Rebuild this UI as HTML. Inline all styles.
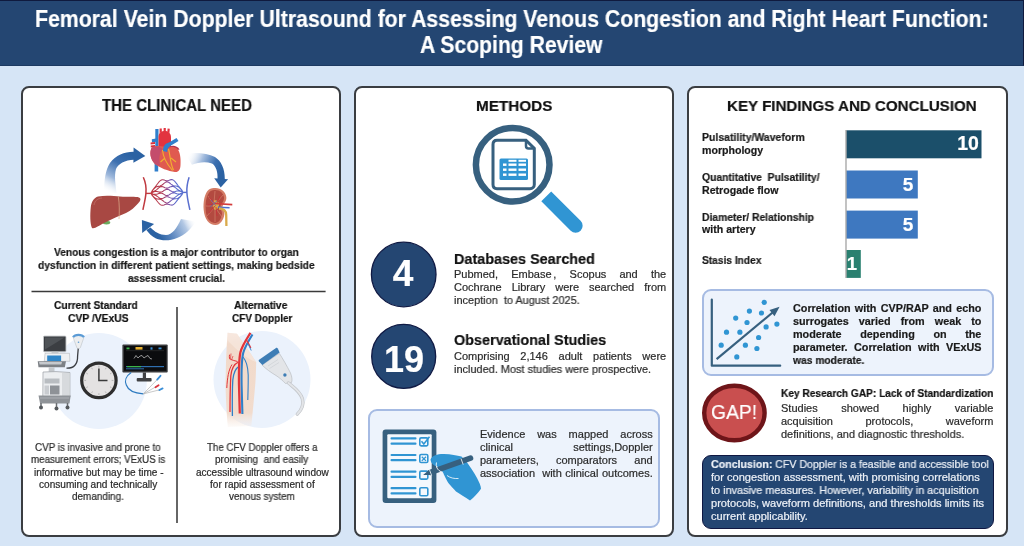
<!DOCTYPE html><html><head><meta charset='utf-8'><style>
*{margin:0;padding:0;box-sizing:border-box}
html,body{width:1024px;height:546px;overflow:hidden;background:#d6e5f6;font-family:"Liberation Sans", sans-serif}
.t{position:absolute;white-space:nowrap;line-height:1;transform-origin:0 0;-webkit-text-stroke:0.2px currentColor;will-change:transform}
.j{text-align:justify;text-align-last:justify;white-space:normal}
.hdr{position:absolute;left:0;top:0;width:1024px;height:66px;background:#244672;border-top:1px solid #0f1a3e;border-right:1.5px solid #0f1a3e;border-bottom:1px solid #1d3a62}
.pn{position:absolute;top:86px;height:450.8px;background:#fff;border:2px solid #3a3d41;border-radius:8px}
.bx{position:absolute;background:#edf3fc;border:2px solid #a6bbe3;border-radius:9px}
svg{position:absolute;left:0;top:0}
</style></head><body>
<div class='hdr'></div>
<div class='pn' style='left:21px;width:320.2px'></div>
<div class='pn' style='left:354px;width:320.3px'></div>
<div class='pn' style='left:687px;width:320.8px'></div>
<div class='bx' style='left:368.2px;top:409.1px;width:292.3px;height:119px'></div>
<div class='bx' style='left:701.6px;top:288.9px;width:292.4px;height:87.3px'></div>
<div style='position:absolute;left:701.6px;top:454.9px;width:292.1px;height:74.3px;background:#244672;border:1.5px solid #0f1742;border-radius:9px'></div>
<svg width="1024" height="546" viewBox="0 0 1024 546"><defs>
<linearGradient id="ga1" gradientUnits="userSpaceOnUse" x1="128" y1="153" x2="106" y2="192"><stop offset="0" stop-color="#2b62a3"/><stop offset="0.3" stop-color="#3d70b0"/><stop offset="0.65" stop-color="#9fb9dc"/><stop offset="1" stop-color="#ffffff" stop-opacity="0"/></linearGradient>
<linearGradient id="ga2" gradientUnits="userSpaceOnUse" x1="187" y1="156" x2="221" y2="172"><stop offset="0" stop-color="#ffffff" stop-opacity="0"/><stop offset="0.4" stop-color="#a6bedf"/><stop offset="0.75" stop-color="#3d70b0"/><stop offset="1" stop-color="#2b62a3"/></linearGradient>
<linearGradient id="ga3" gradientUnits="userSpaceOnUse" x1="160" y1="238" x2="195" y2="220"><stop offset="0" stop-color="#2b62a3"/><stop offset="0.3" stop-color="#5d88c0"/><stop offset="0.7" stop-color="#b3c8e4"/><stop offset="1" stop-color="#ffffff" stop-opacity="0"/></linearGradient>
<linearGradient id="cap" gradientUnits="userSpaceOnUse" x1="150" x2="185" y1="0" y2="0"><stop offset="0" stop-color="#c0393f"/><stop offset="0.35" stop-color="#b23c55"/><stop offset="0.55" stop-color="#7f4fa8"/><stop offset="0.75" stop-color="#5a6fcf"/><stop offset="1" stop-color="#5a6fcf"/></linearGradient>
<linearGradient id="legg" x1="0" x2="0" y1="0" y2="1"><stop offset="0" stop-color="#f3ddd0" stop-opacity="0.5"/><stop offset="0.12" stop-color="#f1dacb"/><stop offset="0.85" stop-color="#f2dccd"/><stop offset="1" stop-color="#f6e8df" stop-opacity="0.2"/></linearGradient>
</defs><path d="M134.5,151.8 C125,151.5 116,155 110,163 C105.5,170 104,180 104.2,193 L116.5,193 C115.5,184 114,176 116,169 C118,164 125,160 134,159.8 Z" fill="url(#ga1)"/><polygon points="133.6,147.6 145.3,155.9 133.4,162.7" fill="#2b62a3"/><path d="M185.5,154 C195,152 207,153 215,157 C221,161 224.8,168 224.8,179 L217.5,179 C218,172 216,166 212,163.5 C205,161 198,162.5 191.9,164.7 Z" fill="url(#ga2)"/><polygon points="214.2,178.3 228.1,179.2 220.7,187.6" fill="#2b62a3"/><path d="M150.6,227.5 C154,231.5 160,235 166,235 C172,235 177,228 181,219 L196,221.5 C191,229 185,235 177,238 C170,241 162,241 156,238.5 C152,236.5 148.5,233 146.4,230 Z" fill="url(#ga3)"/><polygon points="141.9,220.1 154.1,223.9 142.2,232.9" fill="#2b62a3"/><rect x="155.3" y="129" width="3.2" height="18" fill="#2f7fcc"/><rect x="154.6" y="160" width="3.6" height="11.5" fill="#2f7fcc"/><path d="M151.8,139.2 L156,138.6 L156,141.8 L152,142.4 Z" fill="#2f7fcc"/><path d="M150.6,142.6 L155,142 L155,144 L150.6,144.6Z M150.8,145.6 L155,145 L155,147 L150.8,147.6 Z" fill="#d8323c"/><path d="M158.5,148 L158.5,137 C158.5,132.5 161.5,131 165,131 C168.5,131 171,133.5 171,137.5 L171,148 Z" fill="#e2333f"/><path d="M159.6,133 L159.6,128.6 L161.8,128.6 L161.8,132 Z M163.6,131 L163.6,128 L165.8,128 L165.8,131 Z M167.3,132 L167.6,128.6 L169.8,128.8 L169.4,133 Z" fill="#e2333f"/><path d="M170,146.5 C173,145 177.5,146 179.5,149.5 L175,150.5 Z" fill="#b53450"/><path d="M151.5,148 C149.5,152 150,159 155,164 C160,168 168,171 175,172 C178,172.5 180.5,170 180.5,165 C181,158 180,152 177.5,149 C175,146.5 171,146.5 168,148 C163,146 155,145 151.5,148 Z" fill="#e05a50"/><path d="M151.5,148 C149.5,152 150,159 155,164 C157,165.5 159,166 160,165 C159,160 159,153 162.5,149 C159,146 154,146 151.5,148 Z" fill="#c44d6c"/><path d="M162.5,150 C163,157 166,163 172.5,170.5 M168.5,149 C170.5,156 170,163 173.5,170 M165,158 L160.5,162 M171,158 L176,162" stroke="#f0b030" stroke-width="1.1" fill="none"/><path d="M163,151 C163,146 165,143.5 169,142.5 L176.5,138 L178.5,141 L171,145.5 C168,147.5 167.2,149.5 167.2,152 Z" fill="#2f7fcc"/><ellipse cx="106.5" cy="222.6" rx="3.8" ry="1.9" fill="#6aab5e"/><path d="M98,196.4 C106,195.3 114,196 120,196.6 C128,197.3 136,196.5 139,197.5 C141.5,198.5 140.5,201 138,203.5 C135,207 131,210.5 126,213 C119,216 112,219 105,222.5 C99,225.5 95,229 92,228 C90,224 90,214 90.8,207 C91.3,202 94,197.5 98,196.4 Z" fill="#a84843"/><path d="M118.3,196.5 C119.5,204 119.5,212 119,219" stroke="#ddb08c" stroke-width="0.7" fill="none"/><path d="M94,205 C95,200 98,198.5 102,198" stroke="#c87a70" stroke-width="0.6" fill="none"/><path d="M215.6,188 C221,188 225.5,191.5 226.3,197 C226.8,201 224,203.5 222.6,206 C222,209 224.6,211 224.4,214 C223.8,220 220,225 215.6,225 C209,225 204.5,219 203.7,210 C203,202 204.5,193 209,189.5 C211,188.3 213,188 215.6,188 Z" fill="#d47c66"/><path d="M215.3,190 C220,190 223.5,193 224,197.5 C224.3,201 221.5,203.5 220.5,206 C220,209 222.3,211.5 222,214 C221.5,219 218.5,223 215.3,223 C210,223 206,218 205.7,210 C205.2,202 206.5,195 210,191.5 C211.8,190.4 213.5,190 215.3,190 Z" fill="#b34a40"/><path d="M215,191 L214,203 M208,196 L213,203 M206,206 L213,206 M207,216 L213,209 M215,222 L215,210 M222,217 L217,210 M223,195 L217,202" stroke="#d98870" stroke-width="0.6" fill="none"/><path d="M214,200.5 C216.5,199.5 218.5,201 219,203.5 C219.3,206.5 217.8,209.5 215,210 C212.8,209 212.5,203 214,200.5 Z" fill="#d9a84a"/><path d="M214.5,203 L209,197 M214.5,204 L207.5,205 M215,206 L209,213 M216,207 L217,216 M217,203 L220,196" stroke="#c8303a" stroke-width="0.8" fill="none"/><path d="M214.5,203.5 L232.3,204.7" stroke="#d33b3b" stroke-width="1.7"/><path d="M218,207.3 L229.6,207.7" stroke="#4a6fd0" stroke-width="1.4"/><path d="M219,208.5 C224,208.5 226,211 226.2,215 L226.4,226" stroke="#d9aa4a" stroke-width="2.3" fill="none"/><path d="M211,200 L216,206 M210,207 L217,201" stroke="#4a5fc0" stroke-width="0.6"/><path d="M143.3,177.3 C146,183 146.3,189 145.9,193.4 C145.5,199 144,204 142.9,209.9" stroke="#c0393f" stroke-width="1.5" fill="none"/><path d="M145.9,193.4 L151.5,193.4" stroke="#c0393f" stroke-width="1.4"/><path d="M189.1,177.3 C187.3,183 186.6,188 186.9,192.3 C187.2,199 188.8,204.5 189.9,209.9" stroke="#5a6fcf" stroke-width="1.5" fill="none"/><path d="M182.5,192.4 L186.9,192.4" stroke="#5a6fcf" stroke-width="1.4"/><path d="M151.0,193.20 L152.0,190.92 L153.0,189.52 L154.0,188.32 L155.0,187.14 L156.0,185.90 L157.0,184.56 L158.0,183.20 L159.0,181.93 L160.0,180.88 L161.0,180.15 L162.0,179.79 L163.0,179.78 L164.0,180.02 L165.0,180.34 L166.0,180.61 L167.0,180.70 L168.0,180.57 L169.0,180.27 L170.0,179.91 L171.0,179.63 L172.0,179.61 L173.0,179.92 L174.0,180.61 L175.0,181.63 L176.0,182.87 L177.0,184.19 L178.0,185.48 L179.0,186.69 L180.0,187.83 L181.0,188.99 L182.0,190.36 L183.0,192.60 M151.0,193.20 L152.0,191.36 L153.0,189.97 L154.0,188.76 L155.0,187.78 L156.0,187.07 L157.0,186.63 L158.0,186.38 L159.0,186.21 L160.0,185.99 L161.0,185.60 L162.0,185.00 L163.0,184.22 L164.0,183.37 L165.0,182.58 L166.0,182.03 L167.0,181.81 L168.0,181.99 L169.0,182.51 L170.0,183.25 L171.0,184.07 L172.0,184.82 L173.0,185.38 L174.0,185.73 L175.0,185.91 L176.0,186.04 L177.0,186.25 L178.0,186.66 L179.0,187.33 L180.0,188.27 L181.0,189.45 L182.0,190.80 L183.0,192.60 M151.0,193.20 L152.0,192.23 L153.0,191.70 L154.0,191.25 L155.0,190.76 L156.0,190.12 L157.0,189.34 L158.0,188.48 L159.0,187.66 L160.0,187.00 L161.0,186.62 L162.0,186.55 L163.0,186.78 L164.0,187.21 L165.0,187.67 L166.0,188.01 L167.0,188.13 L168.0,187.97 L169.0,187.59 L170.0,187.09 L171.0,186.63 L172.0,186.37 L173.0,186.39 L174.0,186.74 L175.0,187.36 L176.0,188.15 L177.0,188.97 L178.0,189.71 L179.0,190.31 L180.0,190.77 L181.0,191.17 L182.0,191.66 L183.0,192.60 M151.0,193.20 L152.0,192.66 L153.0,192.15 L154.0,191.70 L155.0,191.39 L156.0,191.30 L157.0,191.41 L158.0,191.66 L159.0,191.94 L160.0,192.11 L161.0,192.07 L162.0,191.76 L163.0,191.22 L164.0,190.55 L165.0,189.90 L166.0,189.43 L167.0,189.24 L168.0,189.39 L169.0,189.83 L170.0,190.44 L171.0,191.07 L172.0,191.58 L173.0,191.85 L174.0,191.85 L175.0,191.64 L176.0,191.32 L177.0,191.03 L178.0,190.88 L179.0,190.94 L180.0,191.21 L181.0,191.63 L182.0,192.10 L183.0,192.60 M151.0,193.20 L152.0,193.53 L153.0,193.88 L154.0,194.19 L155.0,194.37 L156.0,194.35 L157.0,194.12 L158.0,193.77 L159.0,193.39 L160.0,193.12 L161.0,193.08 L162.0,193.31 L163.0,193.79 L164.0,194.39 L165.0,194.99 L166.0,195.41 L167.0,195.56 L168.0,195.38 L169.0,194.91 L170.0,194.28 L171.0,193.64 L172.0,193.13 L173.0,192.86 L174.0,192.86 L175.0,193.09 L176.0,193.43 L177.0,193.75 L178.0,193.94 L179.0,193.92 L180.0,193.70 L181.0,193.35 L182.0,192.96 L183.0,192.60 M151.0,193.20 L152.0,193.96 L153.0,194.33 L154.0,194.64 L155.0,195.01 L156.0,195.52 L157.0,196.19 L158.0,196.94 L159.0,197.67 L160.0,198.24 L161.0,198.54 L162.0,198.52 L163.0,198.22 L164.0,197.74 L165.0,197.22 L166.0,196.83 L167.0,196.67 L168.0,196.79 L169.0,197.15 L170.0,197.63 L171.0,198.07 L172.0,198.34 L173.0,198.31 L174.0,197.98 L175.0,197.37 L176.0,196.60 L177.0,195.81 L178.0,195.11 L179.0,194.56 L180.0,194.15 L181.0,193.81 L182.0,193.40 L183.0,192.60 M151.0,193.20 L152.0,194.83 L153.0,196.06 L154.0,197.13 L155.0,197.98 L156.0,198.57 L157.0,198.90 L158.0,199.05 L159.0,199.12 L160.0,199.25 L161.0,199.55 L162.0,200.07 L163.0,200.79 L164.0,201.58 L165.0,202.31 L166.0,202.82 L167.0,202.99 L168.0,202.78 L169.0,202.23 L170.0,201.47 L171.0,200.64 L172.0,199.89 L173.0,199.33 L174.0,198.99 L175.0,198.82 L176.0,198.71 L177.0,198.53 L178.0,198.16 L179.0,197.53 L180.0,196.64 L181.0,195.53 L182.0,194.27 L183.0,192.60 M151.0,193.20 L152.0,195.26 L153.0,196.51 L154.0,197.58 L155.0,198.62 L156.0,199.75 L157.0,200.97 L158.0,202.22 L159.0,203.40 L160.0,204.36 L161.0,205.01 L162.0,205.28 L163.0,205.22 L164.0,204.93 L165.0,204.55 L166.0,204.23 L167.0,204.10 L168.0,204.19 L169.0,204.47 L170.0,204.81 L171.0,205.07 L172.0,205.10 L173.0,204.78 L174.0,204.10 L175.0,203.10 L176.0,201.88 L177.0,200.59 L178.0,199.34 L179.0,198.17 L180.0,197.09 L181.0,195.99 L182.0,194.70 L183.0,192.60" stroke="url(#cap)" stroke-width="1.05" fill="none"/><line x1="31.5" y1="291.6" x2="325.6" y2="291.6" stroke="#3a3a3a" stroke-width="1.5"/><line x1="177" y1="307" x2="177" y2="523" stroke="#333" stroke-width="1.5"/><circle cx="98.8" cy="381" r="48" fill="#ebf2fc"/><rect x="43.5" y="336.1" width="22.5" height="15.7" rx="1" fill="#3b3e42" stroke="#c4c7ca" stroke-width="0.9"/><path d="M45,337.5 L64.5,337.5 L45,349.5 Z" fill="#4f5357"/><rect x="51.5" y="351.8" width="7" height="2.2" fill="#c8cbcf"/><path d="M45,353.3 L69.5,353.3 L69.9,361.3 L44.3,361.3 Z" fill="#eef0f2" stroke="#a9adb1" stroke-width="0.5"/><rect x="47.2" y="355.5" width="13.9" height="5.5" fill="#2f86c8"/><path d="M37.7,361.3 L66,361.3 L64.8,367.2 L38.5,367.2 Z" fill="#7d8186"/><path d="M39,362 L62,362 L61.3,364.5 L39.6,364.5Z" fill="#c6c9cd"/><rect x="48.7" y="367.2" width="5.8" height="8.8" fill="#c4c8cc"/><path d="M43,372 L56,371.6 L69.9,372.5 L69.9,397 L42.8,397 Z" fill="#eceef0" stroke="#9a9ea3" stroke-width="0.7"/><path d="M62,373 L69.5,373 L69.5,396 L62,396 Z" fill="#d7dadd"/><rect x="44.5" y="378.5" width="15" height="5" fill="#b9bdc1"/><rect x="50" y="385.5" width="9.5" height="9" fill="#8e9297"/><rect x="44.5" y="385.5" width="4.5" height="9" fill="#c9ccd0"/><path d="M38.5,395.5 L70.7,395.5 L69.5,403.5 L40,403.5 Z" fill="#8f9398"/><path d="M40,398 L69,398" stroke="#b5b8bc" stroke-width="0.8"/><path d="M41,403 L41,406.5 M56.5,403 L56.5,407.5 M67.5,403 L67.5,406.5" stroke="#6a6e72" stroke-width="1.5"/><circle cx="41" cy="407.5" r="2" fill="#55595d"/><circle cx="56.5" cy="408.5" r="2" fill="#55595d"/><circle cx="67.5" cy="407.5" r="2" fill="#55595d"/><path d="M66.5,368.2 C74,368.5 77.8,364 77.6,356 L78.3,348" fill="none" stroke="#3a3d42" stroke-width="1.3"/><path d="M73.2,337.6 C74.5,334.4 82.5,334.4 83.8,337.6 L80.4,347.5 C79.6,349 77.6,349 76.8,347.5 Z" fill="#eceef0" stroke="#b3b8bd" stroke-width="0.5"/><path d="M73,337.2 C75,334 82,334 84,337.2" stroke="#5b9bd5" stroke-width="2.2" fill="none"/><circle cx="78.5" cy="342.3" r="0.8" fill="#5b9bd5"/><circle cx="98.9" cy="380.4" r="17.2" fill="#e4e2e2" stroke="#2e2e2e" stroke-width="3.2"/><path d="M111.7,380.4 L113.5,380.4 M110.0,386.8 L111.5,387.7 M105.3,391.5 L106.2,393.0 M98.9,393.2 L98.9,395.0 M92.5,391.5 L91.6,393.0 M87.8,386.8 L86.3,387.7 M86.1,380.4 L84.3,380.4 M87.8,374.0 L86.3,373.1 M92.5,369.3 L91.6,367.8 M98.9,367.6 L98.9,365.8 M105.3,369.3 L106.2,367.8 M110.0,374.0 L111.5,373.1" stroke="#a0a0a0" stroke-width="0.7"/><path d="M98.9,368.5 L98.9,380.4 L107.5,380.4" stroke="#3a3a3a" stroke-width="1.5" fill="none"/><rect x="122.4" y="344.4" width="45.3" height="28.1" rx="1" fill="#38393b"/><rect x="124" y="346" width="42.4" height="24.8" fill="#0b0c0e"/><rect x="126.5" y="347.5" width="3" height="1.8" fill="#3bb54a"/><rect x="135.5" y="347" width="7" height="2.6" fill="#e6b030"/><rect x="150.5" y="347.3" width="2" height="2.3" fill="#3a8fd8"/><rect x="158.5" y="347.5" width="3" height="1.8" fill="#3a8fd8"/><rect x="126" y="350.5" width="38" height="0.6" fill="#333"/><path d="M134,358.5 L136,355.5 L138,358 L140,356 L142,355.5 L144,358 L146,356.5 L148,355.5 L150,358.5 L152,359" stroke="#cfcfcf" stroke-width="0.7" fill="none"/><rect x="126" y="366" width="38" height="1.2" fill="#2f6fb0"/><rect x="127" y="366" width="14" height="1.2" fill="#3bb54a"/><rect x="126" y="368.3" width="18" height="1" fill="#2f6fb0"/><rect x="142.8" y="372.5" width="3.2" height="6" fill="#414244"/><rect x="136.7" y="378" width="14.9" height="3.4" rx="1" fill="#414244"/><path d="M131.2,372.5 C126,376 124.5,381 126.3,385 C128,390 132,393 143.3,393.9" stroke="#2c7ac0" stroke-width="1.2" fill="none"/><path d="M143.3,393.9 L159.3,377.4 M143.3,393.9 L157,386.2 M143.3,393.9 L160.9,389.5" stroke="#b0b0b0" stroke-width="0.7"/><path d="M157.2,379.6 L160.5,375.8" stroke="#3a8fd8" stroke-width="1.8" stroke-linecap="round"/><path d="M155.5,387.2 L158.6,385.2" stroke="#d8343c" stroke-width="1.8" stroke-linecap="round"/><path d="M159.4,390 L162.6,388.4" stroke="#3a8fd8" stroke-width="1.8" stroke-linecap="round"/><circle cx="262" cy="379.5" r="48.5" fill="#ebf2fc"/><path d="M227.6,332.8 L237,333.7 C243,343 250,352 256.2,362.3 C256,372 255.5,385 255.2,385.1 C254,400 252.5,413 251.4,426 L227.8,427 C226,405 225.2,385 225.7,375.6 C226,360 226.6,345 227.6,332.8 Z" fill="url(#legg)"/><path d="M227.6,332.8 L237,333.7 C243,343 250,352 256.2,362.3 C246,358 236,350 227.6,340 Z" fill="#f6e6dc" opacity="0.8"/><path d="M229.5,354.7 C229,358 229.8,360 230.5,359.4 C232.5,360 235,361 237.5,361.5" stroke="#e2353a" stroke-width="1" fill="none"/><path d="M231,353.5 L230.5,359 M233,356 L231.5,360" stroke="#e2353a" stroke-width="0.7" fill="none"/><path d="M232,364.5 C228.5,370 227.3,378 226.8,388" stroke="#e2353a" stroke-width="1" fill="none"/><path d="M238.5,362 C234,364 231.5,368 230.8,376 C230.2,388 230,400 230,412" stroke="#e2353a" stroke-width="1.3" fill="none"/><path d="M239.5,366 C235.8,368 233.6,372 232.8,380 C232.2,390 232.2,402 232.4,416" stroke="#2f7fc8" stroke-width="1.3" fill="none"/><path d="M243,357 C246.5,361 248,367 248.2,375 C248.3,384 248,392 247.8,400" stroke="#2f7fc8" stroke-width="1.1" fill="none"/><path d="M252.5,334.5 C248.5,341 244.8,347 243.2,353 C241.3,361 241.4,373 241.6,385 C241.9,397 242.2,405 242.4,414" stroke="#2f7fc8" stroke-width="2.1" fill="none"/><path d="M250.5,332.8 C246,340 242,346 240.5,352 C238.6,360 238.8,372 239,385 C239.3,397 239.6,405 239.8,413.5" stroke="#e2353a" stroke-width="2.3" fill="none"/><path d="M246.7,340.4 C248.5,343 249.5,345.5 250.8,348" stroke="#e2353a" stroke-width="1.3" fill="none"/><path d="M247.8,343.5 C249.2,346 250.2,348 251.2,350.5" stroke="#2f7fc8" stroke-width="0.9" fill="none"/><path d="M262,365 L279.3,353.3 C283,359 287,366 290.5,373 C292,377 292.5,380 291.5,382.5 L285.5,383.5 C283,381 280,378 276,375.5 C271,372.5 266,369 262,365 Z" fill="#e3e5e8" stroke="#b3b7bb" stroke-width="0.6"/><path d="M258.8,360 L275.6,348.2 C276.5,347.6 277.3,347.8 277.8,348.5 L279.6,352.6 L262.3,365 L259,361.5 C258.6,361 258.5,360.4 258.8,360 Z" fill="#3d7db5"/><path d="M268,366 L278,359.5 M269.5,368.5 L279,362.5" stroke="#c5c9cd" stroke-width="0.5"/><circle cx="284.9" cy="375" r="1.7" fill="#3d7db5"/><path d="M288.5,383 C293,387 300,391 302.4,398.7 C303.8,404 301.5,410 297.3,414.1" stroke="#c3c6ca" stroke-width="3.4" fill="none" stroke-linecap="round"/><path d="M288.5,383 C293,387 300,391 302.4,398.7 C303.8,404 301.5,410 297.3,414.1" stroke="#e3e5e8" stroke-width="2" fill="none" stroke-linecap="round"/><circle cx="512.7" cy="164.7" r="36.8" fill="none" stroke="#37607f" stroke-width="6.5"/><path d="M541.3,201.3 L551.2,191.4 L580.6,220.8 A7,7 0 0 1 570.7,230.7 Z" fill="#3095d3"/><path d="M497,140.3 L526,140.3 L534.3,148.5 L534.3,184.5 C534.3,187 532.5,188.7 530,188.7 L497,188.7 C494.5,188.7 493,187 493,184.5 L493,144.5 C493,142 494.5,140.3 497,140.3 Z" fill="#fff" stroke="#37607f" stroke-width="3"/><path d="M526,140.3 L526,146 C526,147.5 527,148.5 528.5,148.5 L534.3,148.5" fill="none" stroke="#37607f" stroke-width="2.5"/><rect x="499.5" y="158.5" width="28.5" height="21.5" rx="1.5" fill="#3095d3"/><rect x="503" y="163.5" width="3.5" height="2.4" fill="#fff"/><rect x="508.5" y="163.5" width="8" height="2.4" fill="#fff"/><rect x="518.5" y="163.5" width="7.5" height="2.4" fill="#fff"/><rect x="503" y="168.5" width="3.5" height="2.4" fill="#fff"/><rect x="508.5" y="168.5" width="8" height="2.4" fill="#fff"/><rect x="518.5" y="168.5" width="7.5" height="2.4" fill="#fff"/><rect x="503" y="173.5" width="3.5" height="2.4" fill="#fff"/><rect x="508.5" y="173.5" width="8" height="2.4" fill="#fff"/><rect x="518.5" y="173.5" width="7.5" height="2.4" fill="#fff"/><rect x="508.5" y="159.8" width="8" height="2" fill="#fff"/><rect x="518.5" y="159.8" width="7.5" height="2" fill="#fff"/><circle cx="403.7" cy="274.5" r="32.3" fill="#244672" stroke="#101a44" stroke-width="1.3"/><circle cx="403.7" cy="356.4" r="32" fill="#244672" stroke="#101a44" stroke-width="1.3"/><rect x="382.6" y="429.5" width="53.8" height="73.5" rx="3" fill="#37607f"/><rect x="387.3" y="434.3" width="44.4" height="64" rx="1" fill="#f4f8fd"/><rect x="390.5" y="437.3" width="26" height="2.2" rx="1" fill="#3095d3"/><rect x="390.5" y="442.5" width="26" height="2.2" rx="1" fill="#3095d3"/><rect x="419.8" y="437.9" width="8" height="8" rx="1.3" fill="none" stroke="#3095d3" stroke-width="1.6"/><rect x="390.5" y="453.9" width="26" height="2.2" rx="1" fill="#3095d3"/><rect x="390.5" y="459.1" width="26" height="2.2" rx="1" fill="#3095d3"/><rect x="419.8" y="454.5" width="8" height="8" rx="1.3" fill="none" stroke="#3095d3" stroke-width="1.6"/><rect x="390.5" y="470.5" width="26" height="2.2" rx="1" fill="#3095d3"/><rect x="390.5" y="475.7" width="26" height="2.2" rx="1" fill="#3095d3"/><rect x="419.8" y="471.1" width="8" height="8" rx="1.3" fill="none" stroke="#3095d3" stroke-width="1.6"/><rect x="390.5" y="487.1" width="26" height="2.2" rx="1" fill="#3095d3"/><rect x="390.5" y="492.3" width="26" height="2.2" rx="1" fill="#3095d3"/><rect x="419.8" y="487.7" width="8" height="8" rx="1.3" fill="none" stroke="#3095d3" stroke-width="1.6"/><path d="M421.5,441.3 L423.8,444 L429.5,436.8" stroke="#3095d3" stroke-width="1.5" fill="none"/><path d="M421.8,456.7 L426,460.9 M426,456.7 L421.8,460.9" stroke="#3095d3" stroke-width="1.3"/><path d="M430.5,459.5 C432,455.5 438,453.8 444,454 C451,454.2 457,455.3 461.5,456.6 L466,461 C470,467 474,472 477,478 C479,482 481,486 481,488.7 C478,493 474,497 470,500.6 C465,497 460,494 456,491.4 C452,487 448,483 446.9,480.4 C445,477 444,475 443.3,473.1 C441,469 439.5,467 437.8,466.7 C434.5,466 431,464 430.5,459.5 Z" fill="#3095d3"/><path d="M430.5,472.3 L470.5,458.2" stroke="#37607f" stroke-width="5.6" stroke-linecap="round"/><path d="M423.1,475.1 L429.5,469.6 L431.5,475 Z" fill="#37607f"/><path d="M429.3,469.3 L431.6,475.3 M461,458.6 L463.2,464.6" stroke="#fff" stroke-width="0.8"/><path d="M436.5,462.5 C435.5,466.5 437.5,470.5 441.5,471.8" stroke="#fff" stroke-width="0.9" fill="none"/><path d="M447,475.5 C450.5,478 454,478.8 458.5,478.5" stroke="#fff" stroke-width="0.8" fill="none"/><rect x="846.3" y="130.3" width="135.2" height="28" fill="#1b4f6a"/><rect x="846.3" y="170.5" width="71.5" height="28" fill="#3e78c0"/><rect x="846.3" y="210.6" width="71.5" height="28" fill="#3e78c0"/><rect x="846.3" y="250" width="14.5" height="27.9" fill="#2a8070"/><line x1="846" y1="130" x2="846" y2="278" stroke="#9a9a9a" stroke-width="1.2"/><path d="M711.8,299.5 L711.8,365.7 L780.2,365.7" stroke="#37607f" stroke-width="2.2" fill="none" stroke-linecap="round" stroke-linejoin="round"/><path d="M716.6,359.1 L775,310.5" stroke="#37607f" stroke-width="2.2"/><polygon points="779.6,306.8 769.5,310 774.5,316.2" fill="#37607f"/><circle cx="764.2" cy="302.3" r="2.6" fill="#3095d3"/><circle cx="749.4" cy="311.1" r="2.6" fill="#3095d3"/><circle cx="761.5" cy="313" r="2.6" fill="#3095d3"/><circle cx="735.7" cy="318.1" r="2.6" fill="#3095d3"/><circle cx="747" cy="322.5" r="2.6" fill="#3095d3"/><circle cx="776.9" cy="324.1" r="2.6" fill="#3095d3"/><circle cx="766.1" cy="326.9" r="2.6" fill="#3095d3"/><circle cx="726.5" cy="332.2" r="2.6" fill="#3095d3"/><circle cx="739.9" cy="332.2" r="2.6" fill="#3095d3"/><circle cx="758.6" cy="337.5" r="2.6" fill="#3095d3"/><circle cx="721.2" cy="345.2" r="2.6" fill="#3095d3"/><circle cx="745.4" cy="345.2" r="2.6" fill="#3095d3"/><circle cx="756.9" cy="348.5" r="2.6" fill="#3095d3"/><circle cx="736.8" cy="356.9" r="2.6" fill="#3095d3"/><ellipse cx="734.4" cy="413" rx="30.2" ry="27.3" fill="#c94f4f" stroke="#6e1519" stroke-width="4.4"/></svg>
<div class='t' style='left:34.80px;top:8.16px;font-size:23.2px;font-weight:700;color:#fff;transform:scaleX(0.9169)'>Femoral Vein Doppler Ultrasound for Assessing Venous Congestion and Right Heart Function:</div>
<div class='t' style='left:420.30px;top:34.46px;font-size:23.2px;font-weight:700;color:#fff;transform:scaleX(0.9119)'>A Scoping Review</div>
<div class='t' style='left:101.60px;top:98.06px;font-size:16px;font-weight:700;color:#111;transform:scaleX(0.9385)'>THE CLINICAL NEED</div>
<div class='t' style='left:54.20px;top:246.99px;font-size:11px;font-weight:700;color:#1a1a1a;transform:scaleX(0.9272)'>Venous congestion is a major contributor to organ</div>
<div class='t' style='left:38.10px;top:259.89px;font-size:11px;font-weight:700;color:#1a1a1a;transform:scaleX(0.9351)'>dysfunction in different patient settings, making bedside</div>
<div class='t' style='left:128.00px;top:272.59px;font-size:11px;font-weight:700;color:#1a1a1a;transform:scaleX(0.9275)'>assessment crucial.</div>
<div class='t' style='left:53.70px;top:300.19px;font-size:11px;font-weight:700;color:#111;transform:scaleX(0.9252)'>Current Standard</div>
<div class='t' style='left:68.00px;top:312.89px;font-size:11px;font-weight:700;color:#111;transform:scaleX(0.9379)'>CVP /VExUS</div>
<div class='t' style='left:234.00px;top:300.19px;font-size:11px;font-weight:700;color:#111;transform:scaleX(0.9392)'>Alternative</div>
<div class='t' style='left:231.80px;top:312.89px;font-size:11px;font-weight:700;color:#111;transform:scaleX(0.9066)'>CFV Doppler</div>
<div class='t' style='left:35.10px;top:443.14px;font-size:10px;font-weight:400;color:#2a2a2a;transform:scaleX(0.9795)'>CVP is invasive and prone to</div>
<div class='t' style='left:30.70px;top:455.34px;font-size:10px;font-weight:400;color:#2a2a2a;transform:scaleX(0.9744)'>measurement errors; VExUS is</div>
<div class='t' style='left:33.70px;top:467.54px;font-size:10px;font-weight:400;color:#2a2a2a;transform:scaleX(1.0051)'>informative but may be time -</div>
<div class='t' style='left:38.90px;top:479.74px;font-size:10px;font-weight:400;color:#2a2a2a;transform:scaleX(1.0086)'>consuming and technically</div>
<div class='t' style='left:72.00px;top:491.94px;font-size:10px;font-weight:400;color:#2a2a2a;transform:scaleX(0.9911)'>demanding.</div>
<div class='t' style='left:207.30px;top:443.14px;font-size:10px;font-weight:400;color:#2a2a2a;transform:scaleX(0.9704)'>The CFV Doppler offers a</div>
<div class='t' style='left:215.20px;top:455.34px;font-size:10px;font-weight:400;color:#2a2a2a;transform:scaleX(0.9921)'>promising&nbsp; and easily</div>
<div class='t' style='left:195.60px;top:467.54px;font-size:10px;font-weight:400;color:#2a2a2a;transform:scaleX(1.0038)'>accessible ultrasound window</div>
<div class='t' style='left:209.80px;top:479.74px;font-size:10px;font-weight:400;color:#2a2a2a;transform:scaleX(1.0073)'>for rapid assessment of</div>
<div class='t' style='left:229.30px;top:491.94px;font-size:10px;font-weight:400;color:#2a2a2a;transform:scaleX(0.9880)'>venous system</div>
<div class='t' style='left:476.10px;top:98.08px;font-size:15.5px;font-weight:700;color:#111;transform:scaleX(0.9845)'>METHODS</div>
<div class='t' style='left:453.50px;top:250.63px;font-size:15.2px;font-weight:700;color:#111;transform:scaleX(0.9482)'>Databases Searched</div>
<div class='t j' style='left:453.50px;top:268.89px;font-size:11px;font-weight:400;color:#2a2a2a;width:212.20px'>Pubmed, Embase&#8202;&#8202;, Scopus and the</div>
<div class='t j' style='left:453.50px;top:281.69px;font-size:11px;font-weight:400;color:#2a2a2a;width:212.20px'>Cochrane Library were searched from</div>
<div class='t' style='left:453.50px;top:294.69px;font-size:11px;font-weight:400;color:#2a2a2a;transform:scaleX(0.9936)'>inception&nbsp; to August 2025.</div>
<div class='t' style='left:453.50px;top:332.33px;font-size:15.2px;font-weight:700;color:#111;transform:scaleX(0.9485)'>Observational Studies</div>
<div class='t j' style='left:453.50px;top:351.19px;font-size:11px;font-weight:400;color:#2a2a2a;width:212.20px'>Comprising 2,146 adult patients were</div>
<div class='t' style='left:453.50px;top:363.69px;font-size:11px;font-weight:400;color:#2a2a2a;transform:scaleX(0.9944)'>included. Most studies were prospective.</div>
<div class='t j' style='left:480.30px;top:429.19px;font-size:11px;font-weight:400;color:#2a2a2a;width:172.70px'>Evidence was mapped across</div>
<div class='t j' style='left:480.30px;top:441.99px;font-size:11px;font-weight:400;color:#2a2a2a;width:172.70px'>clinical settings,Doppler</div>
<div class='t j' style='left:480.30px;top:454.79px;font-size:11px;font-weight:400;color:#2a2a2a;width:172.70px'>parameters, comparators and</div>
<div class='t j' style='left:480.30px;top:467.59px;font-size:11px;font-weight:400;color:#2a2a2a;width:172.70px'>association&nbsp; with clinical outcomes.</div>
<div class='t' style='left:403.25px;top:255.38px;font-size:37px;font-weight:700;color:#fff;left:353.25px;width:100px;text-align:center'>4</div>
<div class='t' style='left:404.00px;top:341.53px;font-size:36px;font-weight:700;color:#fff;left:354.00px;width:100px;text-align:center'>19</div>
<div class='t' style='left:726.60px;top:98.48px;font-size:15.5px;font-weight:700;color:#111;transform:scaleX(0.9763)'>KEY FINDINGS AND CONCLUSION</div>
<div class='t' style='left:702.00px;top:132.13px;font-size:10.6px;font-weight:700;color:#1a1a1a;transform:scaleX(0.9893)'>Pulsatility/Waveform</div>
<div class='t' style='left:702.00px;top:144.63px;font-size:10.6px;font-weight:700;color:#1a1a1a;'>morphology</div>
<div class='t' style='left:702.00px;top:172.33px;font-size:10.6px;font-weight:700;color:#1a1a1a;transform:scaleX(0.9784)'>Quantitative&nbsp; Pulsatility/</div>
<div class='t' style='left:702.00px;top:184.83px;font-size:10.6px;font-weight:700;color:#1a1a1a;'>Retrogade flow</div>
<div class='t' style='left:702.00px;top:211.83px;font-size:10.6px;font-weight:700;color:#1a1a1a;transform:scaleX(0.9756)'>Diameter/ Relationship</div>
<div class='t' style='left:702.00px;top:224.33px;font-size:10.6px;font-weight:700;color:#1a1a1a;'>with artery</div>
<div class='t' style='left:702.00px;top:254.83px;font-size:10.6px;font-weight:700;color:#1a1a1a;transform:scaleX(0.9607)'>Stasis Index</div>
<div class='t' style='left:967.90px;top:133.59px;font-size:19.5px;font-weight:700;color:#fff;left:917.90px;width:100px;text-align:center'>10</div>
<div class='t' style='left:908.30px;top:175.02px;font-size:19px;font-weight:700;color:#fff;left:858.30px;width:100px;text-align:center'>5</div>
<div class='t' style='left:908.30px;top:215.22px;font-size:19px;font-weight:700;color:#fff;left:858.30px;width:100px;text-align:center'>5</div>
<div class='t' style='left:852.10px;top:254.84px;font-size:18.5px;font-weight:700;color:#fff;left:802.10px;width:100px;text-align:center'>1</div>
<div class='t j' style='left:792.50px;top:303.26px;font-size:10.8px;font-weight:700;color:#1a1a1a;width:188.40px'>Correlation with CVP/RAP and echo</div>
<div class='t j' style='left:792.50px;top:316.19px;font-size:10.8px;font-weight:700;color:#1a1a1a;width:188.40px'>surrogates varied from weak to</div>
<div class='t j' style='left:792.50px;top:329.12px;font-size:10.8px;font-weight:700;color:#1a1a1a;width:188.40px'>moderate depending on the</div>
<div class='t j' style='left:792.50px;top:342.05px;font-size:10.8px;font-weight:700;color:#1a1a1a;width:188.40px'>parameter. Correlation with VExUS</div>
<div class='t' style='left:792.50px;top:354.96px;font-size:10.8px;font-weight:700;color:#1a1a1a;transform:scaleX(0.9505)'>was moderate.</div>
<div class='t' style='left:711.10px;top:401.95px;font-size:20.5px;font-weight:400;color:#fff;transform:scaleX(0.9429)'>GAP!</div>
<div class='t' style='left:781.20px;top:388.29px;font-size:11px;font-weight:700;color:#111;transform:scaleX(0.9217)'>Key Research GAP: Lack of Standardization</div>
<div class='t j' style='left:781.20px;top:402.59px;font-size:11px;font-weight:400;color:#2a2a2a;width:212.40px'>Studies showed highly variable</div>
<div class='t j' style='left:781.20px;top:415.69px;font-size:11px;font-weight:400;color:#2a2a2a;width:212.40px'>acquisition protocols, waveform</div>
<div class='t' style='left:781.20px;top:428.79px;font-size:11px;font-weight:400;color:#2a2a2a;transform:scaleX(0.9986)'>definitions, and diagnostic thresholds.</div>
<div class='t' style='left:710.70px;top:458.89px;font-size:11px;font-weight:400;color:#eef2f8;transform:scaleX(0.9643)'><b>Conclusion:</b> CFV Doppler is a feasible and accessible tool</div>
<div class='t' style='left:710.70px;top:472.09px;font-size:11px;font-weight:400;color:#eef2f8;transform:scaleX(1.0060)'>for congestion assessment, with promising correlations</div>
<div class='t' style='left:710.70px;top:485.19px;font-size:11px;font-weight:400;color:#eef2f8;transform:scaleX(0.9880)'>to invasive measures. However, variability in acquisition</div>
<div class='t' style='left:710.70px;top:497.99px;font-size:11px;font-weight:400;color:#eef2f8;transform:scaleX(1.0057)'>protocols, waveform definitions, and thresholds limits its</div>
<div class='t' style='left:710.70px;top:510.79px;font-size:11px;font-weight:400;color:#eef2f8;transform:scaleX(1.0041)'>current applicability.</div>
</body></html>
